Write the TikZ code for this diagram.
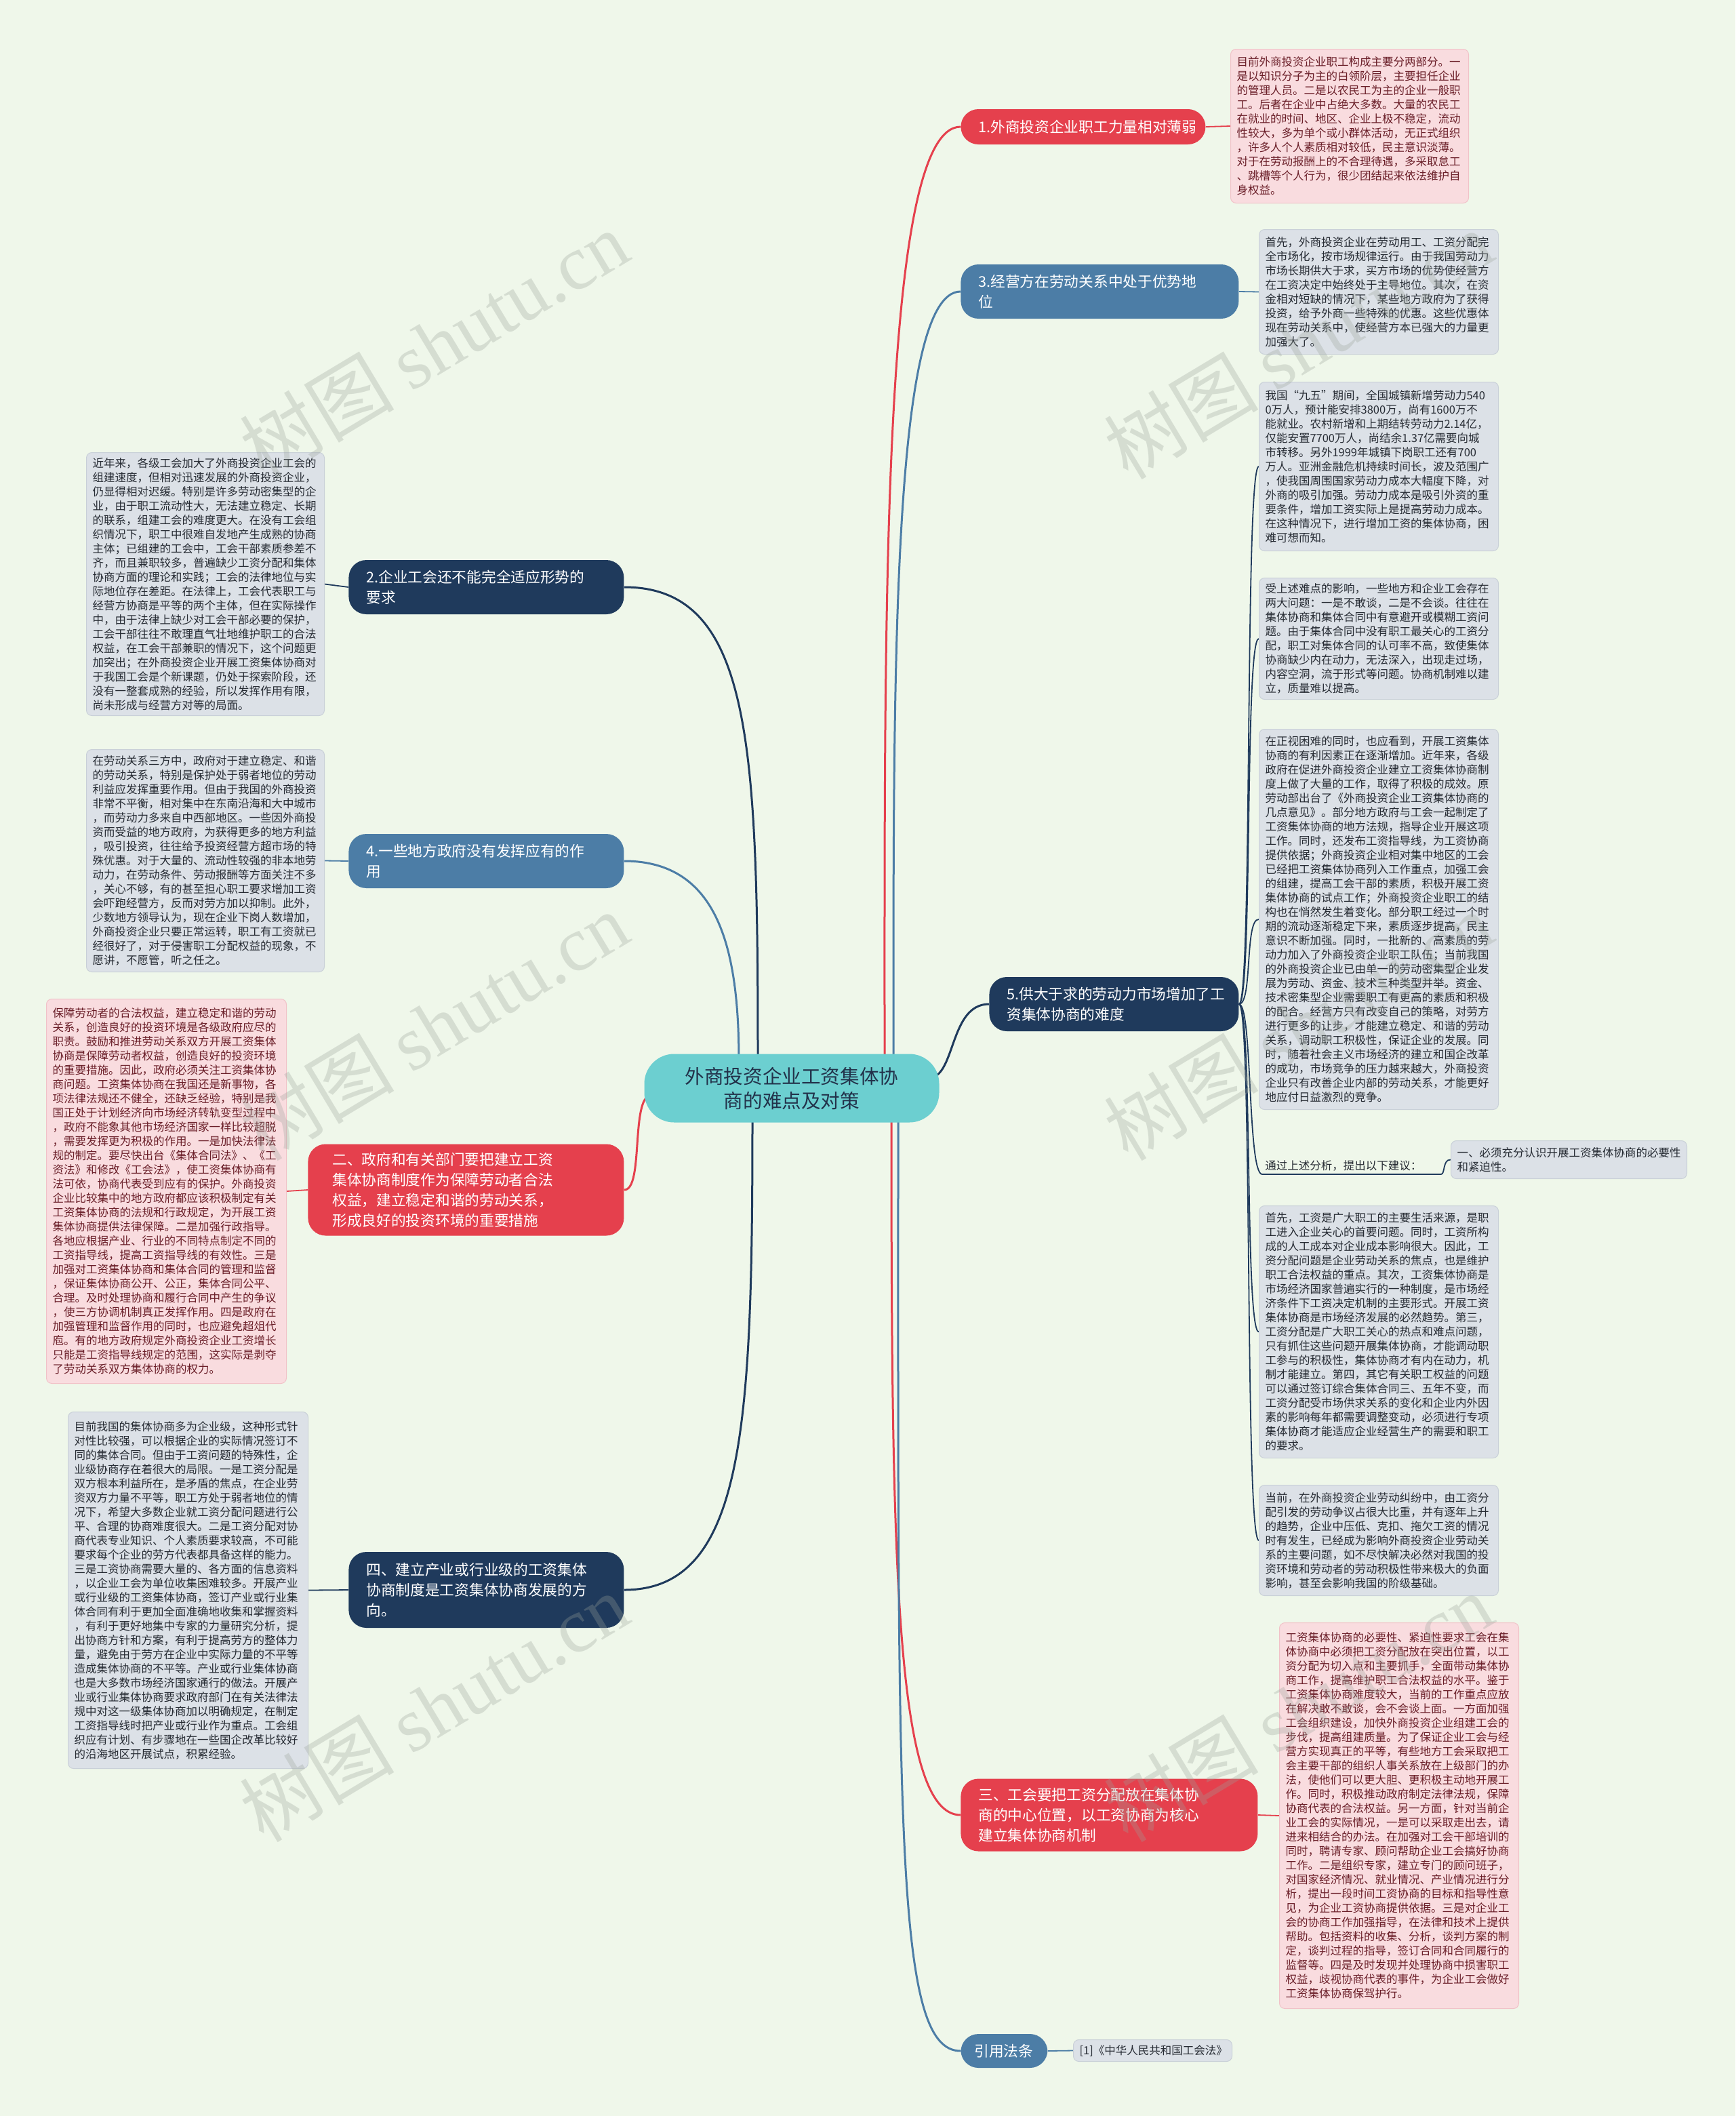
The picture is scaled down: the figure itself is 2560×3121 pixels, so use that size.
\documentclass[tikz,border=0pt]{standalone}
\usepackage{fontspec}
\setmainfont{Noto Sans CJK SC}
\newfontfamily\wmserif{Liberation Serif}
\usetikzlibrary{calc,backgrounds}
\definecolor{bgc}{HTML}{EFF7EA}
\definecolor{cred}{HTML}{E5404D}
\definecolor{csteel}{HTML}{4C7DA6}
\definecolor{cnavy}{HTML}{1F3A5C}
\definecolor{cteal}{HTML}{6CCFD0}
\definecolor{ctealtext}{HTML}{22324A}
\definecolor{grayfill}{HTML}{DCE1E7}
\definecolor{grayline}{HTML}{C9D0D8}
\definecolor{pinkfill}{HTML}{F9DCDF}
\definecolor{pinkline}{HTML}{F1C2C8}
\definecolor{pinktext}{HTML}{6A1E28}
\definecolor{graytext}{HTML}{262B33}
\definecolor{wmc}{HTML}{9AA39A}
\begin{document}
\begin{tikzpicture}[x=0.5pt,y=-0.5pt,
  leaf/.style={anchor=north west, rounded corners=4pt, inner xsep=4.5pt, inner ysep=0pt, align=left, font=\fontsize{8.25pt}{10.5pt}\selectfont},
  grayleaf/.style={leaf, fill=grayfill, draw=grayline, line width=0.5pt, text=graytext},
  pinkleaf/.style={leaf, fill=pinkfill, draw=pinkline, line width=0.5pt, text=pinktext},
  branch/.style={anchor=west, rounded corners=13pt, inner xsep=13pt, inner ysep=0pt, align=left, text=white, font=\fontsize{10.85pt}{15pt}\selectfont},
  centernode/.style={rounded corners=22pt, fill=cteal, text=ctealtext, align=center, minimum width=217.5pt, minimum height=50.5pt, font=\fontsize{14.3pt}{18pt}\selectfont},
  conn/.style={draw=#1, line width=1.5pt},
  thinconn/.style={draw=#1, line width=0.9pt},
  wm/.style={text=wmc, opacity=0.3, rotate=31, font=\fontsize{57pt}{57pt}\selectfont}
]
\useasboundingbox (0,0) rectangle (2560,3121);

% center
\node[centernode] (C) at (1168,1605) {外商投资企业工资集体协\\商的难点及对策};

% branches
\node[branch, fill=cred, minimum width=180.5pt, minimum height=26pt, text width=154.5pt] (B1) at (1417,187) {1.外商投资企业职工力量相对薄弱};
\node[branch, fill=csteel, minimum width=205pt, minimum height=40pt, text width=179pt] (B3) at (1417,430) {3.经营方在劳动关系中处于优势地\\位};
\node[branch, fill=cnavy, minimum width=203pt, minimum height=40pt, text width=177pt] (B2) at (514,866) {2.企业工会还不能完全适应形势的\\要求};
\node[branch, fill=csteel, minimum width=203pt, minimum height=40pt, text width=177pt] (B4) at (514,1270) {4.一些地方政府没有发挥应有的作\\用};
\node[branch, fill=cnavy, minimum width=184pt, minimum height=40pt, text width=158pt] (B5) at (1459,1481) {5.供大于求的劳动力市场增加了工\\资集体协商的难度};
\node[branch, fill=cred, minimum width=233pt, minimum height=67.5pt, text width=197pt, inner xsep=18pt] (BII) at (454,1755) {二、政府和有关部门要把建立工资\\集体协商制度作为保障劳动者合法\\权益，建立稳定和谐的劳动关系，\\形成良好的投资环境的重要措施};
\node[branch, fill=cnavy, minimum width=203pt, minimum height=56pt, text width=177pt] (BIV) at (514,2345) {四、建立产业或行业级的工资集体\\协商制度是工资集体协商发展的方\\向。};
\node[branch, fill=cred, minimum width=219pt, minimum height=53.5pt, text width=193pt] (BIII) at (1417,2677) {三、工会要把工资分配放在集体协\\商的中心位置，以工资协商为核心\\建立集体协商机制};
\node[branch, fill=csteel, minimum width=64pt, minimum height=25pt, text width=44pt, inner xsep=10pt] (BR) at (1417,3025) {引用法条};

% leaves
\node[pinkleaf, text width=166.5pt, minimum height=113.5pt] (L1) at (1815,72) {目前外商投资企业职工构成主要分两部分。一\\是以知识分子为主的白领阶层，主要担任企业\\的管理人员。二是以农民工为主的企业一般职\\工。后者在企业中占绝大多数。大量的农民工\\在就业的时间、地区、企业上极不稳定，流动\\性较大，多为单个或小群体活动，无正式组织\\，许多人个人素质相对较低，民主意识淡薄。\\对于在劳动报酬上的不合理待遇，多采取怠工\\、跳槽等个人行为，很少团结起来依法维护自\\身权益。};

\node[grayleaf, text width=167.5pt, minimum height=92pt] (L3) at (1857,338) {首先，外商投资企业在劳动用工、工资分配完\\全市场化，按市场规律运行。由于我国劳动力\\市场长期供大于求，买方市场的优势使经营方\\在工资决定中始终处于主导地位。其次，在资\\金相对短缺的情况下，某些地方政府为了获得\\投资，给予外商一些特殊的优惠。这些优惠体\\现在劳动关系中，使经营方本已强大的力量更\\加强大了。};

\node[grayleaf, text width=167.5pt, minimum height=124.5pt] (L5a) at (1857,563) {我国“九五”期间，全国城镇新增劳动力540\\0万人，预计能安排3800万，尚有1600万不\\能就业。农村新增和上期结转劳动力2.14亿，\\仅能安置7700万人，尚结余1.37亿需要向城\\市转移。另外1999年城镇下岗职工还有700\\万人。亚洲金融危机持续时间长，波及范围广\\，使我国周围国家劳动力成本大幅度下降，对\\外商的吸引加强。劳动力成本是吸引外资的重\\要条件，增加工资实际上是提高劳动力成本。\\在这种情况下，进行增加工资的集体协商，困\\难可想而知。};

\node[grayleaf, text width=167.5pt, minimum height=89.5pt] (L5b) at (1857,852) {受上述难点的影响，一些地方和企业工会存在\\两大问题：一是不敢谈，二是不会谈。往往在\\集体协商和集体合同中有意避开或模糊工资问\\题。由于集体合同中没有职工最关心的工资分\\配，职工对集体合同的认可率不高，致使集体\\协商缺少内在动力，无法深入，出现走过场，\\内容空洞，流于形式等问题。协商机制难以建\\立，质量难以提高。};

\node[grayleaf, text width=167.5pt, minimum height=280.5pt] (L5c) at (1857,1075) {在正视困难的同时，也应看到，开展工资集体\\协商的有利因素正在逐渐增加。近年来，各级\\政府在促进外商投资企业建立工资集体协商制\\度上做了大量的工作，取得了积极的成效。原\\劳动部出台了《外商投资企业工资集体协商的\\几点意见》。部分地方政府与工会一起制定了\\工资集体协商的地方法规，指导企业开展这项\\工作。同时，还发布工资指导线，为工资协商\\提供依据；外商投资企业相对集中地区的工会\\已经把工资集体协商列入工作重点，加强工会\\的组建，提高工会干部的素质，积极开展工资\\集体协商的试点工作；外商投资企业职工的结\\构也在悄然发生着变化。部分职工经过一个时\\期的流动逐渐稳定下来，素质逐步提高，民主\\意识不断加强。同时，一批新的、高素质的劳\\动力加入了外商投资企业职工队伍；当前我国\\的外商投资企业已由单一的劳动密集型企业发\\展为劳动、资金、技术三种类型并举。资金、\\技术密集型企业需要职工有更高的素质和积极\\的配合。经营方只有改变自己的策略，对劳方\\进行更多的让步，才能建立稳定、和谐的劳动\\关系，调动职工积极性，保证企业的发展。同\\时，随着社会主义市场经济的建立和国企改革\\的成功，市场竞争的压力越来越大，外商投资\\企业只有改善企业内部的劳动关系，才能更好\\地应付日益激烈的竞争。};

\node[anchor=south west, inner xsep=2pt, inner ysep=2pt, text width=127.5pt, align=left, text=graytext, font=\fontsize{8.25pt}{10.5pt}\selectfont] (SG) at (1862,1732) {通过上述分析，提出以下建议：};

\node[grayleaf, text width=165pt, minimum height=28pt] (SB) at (2140,1682) {一、必须充分认识开展工资集体协商的必要性\\和紧迫性。};

\node[grayleaf, text width=167.5pt, minimum height=186pt] (L5d) at (1857,1778) {首先，工资是广大职工的主要生活来源，是职\\工进入企业关心的首要问题。同时，工资所构\\成的人工成本对企业成本影响很大。因此，工\\资分配问题是企业劳动关系的焦点，也是维护\\职工合法权益的重点。其次，工资集体协商是\\市场经济国家普遍实行的一种制度，是市场经\\济条件下工资决定机制的主要形式。开展工资\\集体协商是市场经济发展的必然趋势。第三，\\工资分配是广大职工关心的热点和难点问题，\\只有抓住这些问题开展集体协商，才能调动职\\工参与的积极性，集体协商才有内在动力，机\\制才能建立。第四，其它有关职工权益的问题\\可以通过签订综合集体合同三、五年不变，而\\工资分配受市场供求关系的变化和企业内外因\\素的影响每年都需要调整变动，必须进行专项\\集体协商才能适应企业经营生产的需要和职工\\的要求。};

\node[grayleaf, text width=167.5pt, minimum height=81.5pt] (L5e) at (1857,2190) {当前，在外商投资企业劳动纠纷中，由工资分\\配引发的劳动争议占很大比重，并有逐年上升\\的趋势，企业中压低、克扣、拖欠工资的情况\\时有发生，已经成为影响外商投资企业劳动关\\系的主要问题，如不尽快解决必然对我国的投\\资环境和劳动者的劳动积极性带来极大的负面\\影响，甚至会影响我国的阶级基础。};

\node[pinkleaf, text width=167.5pt, minimum height=284.5pt] (LIII) at (1887,2393) {工资集体协商的必要性、紧迫性要求工会在集\\体协商中必须把工资分配放在突出位置，以工\\资分配为切入点和主要抓手，全面带动集体协\\商工作，提高维护职工合法权益的水平。鉴于\\工资集体协商难度较大，当前的工作重点应放\\在解决敢不敢谈，会不会谈上面。一方面加强\\工会组织建设，加快外商投资企业组建工会的\\步伐，提高组建质量。为了保证企业工会与经\\营方实现真正的平等，有些地方工会采取把工\\会主要干部的组织人事关系放在上级部门的办\\法，使他们可以更大胆、更积极主动地开展工\\作。同时，积极推动政府制定法律法规，保障\\协商代表的合法权益。另一方面，针对当前企\\业工会的实际情况，一是可以采取走出去，请\\进来相结合的办法。在加强对工会干部培训的\\同时，聘请专家、顾问帮助企业工会搞好协商\\工作。二是组织专家，建立专门的顾问班子，\\对国家经济情况、就业情况、产业情况进行分\\析，提出一段时间工资协商的目标和指导性意\\见，为企业工资协商提供依据。三是对企业工\\会的协商工作加强指导，在法律和技术上提供\\帮助。包括资料的收集、分析，谈判方案的制\\定，谈判过程的指导，签订合同和合同履行的\\监督等。四是及时发现并处理协商中损害职工\\权益，歧视协商代表的事件，为企业工会做好\\工资集体协商保驾护行。};

\node[grayleaf, text width=166.5pt, minimum height=194pt] (L2) at (127,667) {近年来，各级工会加大了外商投资企业工会的\\组建速度，但相对迅速发展的外商投资企业，\\仍显得相对迟缓。特别是许多劳动密集型的企\\业，由于职工流动性大，无法建立稳定、长期\\的联系，组建工会的难度更大。在没有工会组\\织情况下，职工中很难自发地产生成熟的协商\\主体；已组建的工会中，工会干部素质参差不\\齐，而且兼职较多，普遍缺少工资分配和集体\\协商方面的理论和实践；工会的法律地位与实\\际地位存在差距。在法律上，工会代表职工与\\经营方协商是平等的两个主体，但在实际操作\\中，由于法律上缺少对工会干部必要的保护，\\工会干部往往不敢理直气壮地维护职工的合法\\权益，在工会干部兼职的情况下，这个问题更\\加突出；在外商投资企业开展工资集体协商对\\于我国工会是个新课题，仍处于探索阶段，还\\没有一整套成熟的经验，所以发挥作用有限，\\尚未形成与经营方对等的局面。};

\node[grayleaf, text width=166.5pt, minimum height=164pt] (L4) at (127,1105) {在劳动关系三方中，政府对于建立稳定、和谐\\的劳动关系，特别是保护处于弱者地位的劳动\\利益应发挥重要作用。但由于我国的外商投资\\非常不平衡，相对集中在东南沿海和大中城市\\，而劳动力多来自中西部地区。一些因外商投\\资而受益的地方政府，为获得更多的地方利益\\，吸引投资，往往给予投资经营方超市场的特\\殊优惠。对于大量的、流动性较强的非本地劳\\动力，在劳动条件、劳动报酬等方面关注不多\\，关心不够，有的甚至担心职工要求增加工资\\会吓跑经营方，反而对劳方加以抑制。此外，\\少数地方领导认为，现在企业下岗人数增加，\\外商投资企业只要正常运转，职工有工资就已\\经很好了，对于侵害职工分配权益的现象，不\\愿讲，不愿管，听之任之。};

\node[pinkleaf, text width=168pt, minimum height=283.5pt] (LII) at (68,1473) {保障劳动者的合法权益，建立稳定和谐的劳动\\关系，创造良好的投资环境是各级政府应尽的\\职责。鼓励和推进劳动关系双方开展工资集体\\协商是保障劳动者权益，创造良好的投资环境\\的重要措施。因此，政府必须关注工资集体协\\商问题。工资集体协商在我国还是新事物，各\\项法律法规还不健全，还缺乏经验，特别是我\\国正处于计划经济向市场经济转轨变型过程中\\，政府不能象其他市场经济国家一样比较超脱\\，需要发挥更为积极的作用。一是加快法律法\\规的制定。要尽快出台《集体合同法》、《工\\资法》和修改《工会法》，使工资集体协商有\\法可依，协商代表受到应有的保护。外商投资\\企业比较集中的地方政府都应该积极制定有关\\工资集体协商的法规和行政规定，为开展工资\\集体协商提供法律保障。二是加强行政指导。\\各地应根据产业、行业的不同特点制定不同的\\工资指导线，提高工资指导线的有效性。三是\\加强对工资集体协商和集体合同的管理和监督\\，保证集体协商公开、公正，集体合同公平、\\合理。及时处理协商和履行合同中产生的争议\\，使三方协调机制真正发挥作用。四是政府在\\加强管理和监督作用的同时，也应避免超俎代\\庖。有的地方政府规定外商投资企业工资增长\\只能是工资指导线规定的范围，这实际是剥夺\\了劳动关系双方集体协商的权力。};

\node[grayleaf, text width=168pt, minimum height=263pt] (LIV) at (100,2082) {目前我国的集体协商多为企业级，这种形式针\\对性比较强，可以根据企业的实际情况签订不\\同的集体合同。但由于工资问题的特殊性，企\\业级协商存在着很大的局限。一是工资分配是\\双方根本利益所在，是矛盾的焦点，在企业劳\\资双方力量不平等，职工方处于弱者地位的情\\况下，希望大多数企业就工资分配问题进行公\\平、合理的协商难度很大。二是工资分配对协\\商代表专业知识、个人素质要求较高，不可能\\要求每个企业的劳方代表都具备这样的能力。\\三是工资协商需要大量的、各方面的信息资料\\，以企业工会为单位收集困难较多。开展产业\\或行业级的工资集体协商，签订产业或行业集\\体合同有利于更加全面准确地收集和掌握资料\\，有利于更好地集中专家的力量研究分析，提\\出协商方针和方案，有利于提高劳方的整体力\\量，避免由于劳方在企业中实际力量的不平等\\造成集体协商的不平等。产业或行业集体协商\\也是大多数市场经济国家通行的做法。开展产\\业或行业集体协商要求政府部门在有关法律法\\规中对这一级集体协商加以明确规定，在制定\\工资指导线时把产业或行业作为重点。工会组\\织应有计划、有步骤地在一些国企改革比较好\\的沿海地区开展试点，积累经验。};

\node[grayleaf, text width=108pt, minimum height=16pt] (LAW) at (1583,3008) {[1]《中华人民共和国工会法》};

% connectors
\begin{pgfonlayer}{background}
\fill[bgc] (0,0) rectangle (2560,3121);
\draw[conn=cred] ($(C.center)+(137,-40)$) .. controls (1305,900) and (1300,187) .. (B1.west);
\draw[conn=csteel] ($(C.center)+(150,-40)$) .. controls (1318,1000) and (1315,430) .. (B3.west);
\draw[conn=cnavy] ($(C.center)+(202,-15)$) .. controls (1410,1590) and (1400,1481) .. (B5.west);
\draw[conn=cred] ($(C.center)+(147,40)$) .. controls (1315,2300) and (1320,2677) .. (BIII.west);
\draw[conn=csteel] ($(C.center)+(157,40)$) .. controls (1325,2700) and (1320,3025) .. (BR.west);
\draw[conn=cnavy] ($(C.center)+(-50,-40)$) .. controls (1118,1100) and (1110,866) .. (B2.east);
\draw[conn=csteel] ($(C.center)+(-78,-40)$) .. controls (1090,1400) and (1060,1270) .. (B4.east);
\draw[conn=cred] ($(C.center)+(-208,10)$) .. controls (930,1620) and (950,1755) .. (BII.east);
\draw[conn=cnavy] ($(C.center)+(-58,40)$) .. controls (1110,2100) and (1100,2345) .. (BIV.east);

\draw[thinconn=cred] (B1.east) -- (L1.west);
\draw[thinconn=csteel] (B3.east) -- (L3.west);
\draw[thinconn=cnavy] (B2.west) -- (L2.east);
\draw[thinconn=csteel] (B4.west) -- (L4.east);
\draw[thinconn=cred] (BII.west) -- (LII.east);
\draw[thinconn=cnavy] (BIV.west) -- (LIV.east);
\draw[thinconn=cred] (BIII.east) -- (LIII.west);
\draw[thinconn=csteel] (BR.east) -- (LAW.west);

\draw[thinconn=cnavy] (B5.east) .. controls (1848,1481) and (1836,687) .. (L5a.west);
\draw[thinconn=cnavy] (B5.east) .. controls (1848,1481) and (1836,941) .. (L5b.west);
\draw[thinconn=cnavy] (B5.east) .. controls (1848,1481) and (1836,1355) .. (L5c.west);
\draw[thinconn=cnavy] (B5.east) .. controls (1848,1481) and (1840,1732) .. (SG.south west);
\draw[thinconn=cnavy] (B5.east) .. controls (1848,1481) and (1836,1964) .. (L5d.west);
\draw[thinconn=cnavy] (B5.east) .. controls (1848,1481) and (1836,2271) .. (L5e.west);
\draw[thinconn=cnavy] (SG.south west) -- (SG.south east);
\draw[thinconn=cnavy] (SG.south east) .. controls (2132,1732) and (2128,1710) .. (SB.west);
\end{pgfonlayer}

% watermarks
\foreach \wx/\wy [count=\i] in {640/508, 640/1513, 640/2518, 1915/508, 1915/1513, 1915/2518}{
  \node[wm] (WM\i) at (\wx,\wy) {树图 {\wmserif shutu.cn}};
}
\end{tikzpicture}
\end{document}
